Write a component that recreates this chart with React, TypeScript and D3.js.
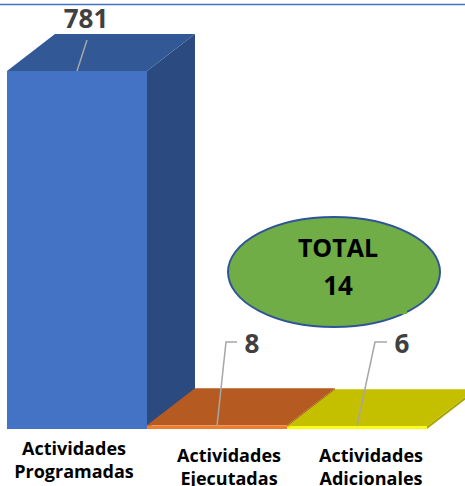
import React from "react";
import * as d3 from "d3";

const categories = ["Actividades Programadas", "Actividades Ejecutadas", "Actividades Adicionales"];
const values = [781, 8, 6];
const totalLabel = "TOTAL";
const totalValue = 14;

const W = 465;
const H = 486;
const DX = 48;
const DY = -37;

const faceColors = [
  { front: "#4472C4", top: "#335896", side: "#2B4A80" },
  { front: "#ED7D31", top: "#B55B22", side: "#A0501D" },
  { front: "#FFFF00", top: "#C4C000", side: "#A8A500" },
];

// label layout (offsets relative to bar front-left / top)
const labelLayout = [
  { tx: 86, ty: 28, leader: [[87, 40], [77, 71]] as [number, number][] },
  { tx: 252, ty: 353, leader: [[237, 342], [226, 342], [217, 426]] as [number, number][] },
  { tx: 402, ty: 353, leader: [[387, 342], [375, 342], [357, 426]] as [number, number][] },
];
const catLabelY = [455, 462, 462];

export default function App() {
  const x = d3.scaleBand<string>().domain(categories).range([7, 427]).paddingInner(0).paddingOuter(0);
  const y = d3.scaleLinear().domain([0, 781]).range([429, 71]);
  const bw = x.bandwidth();
  const line = d3.line();

  return (
    <svg width={W} height={H} style={{ position: "absolute", left: 0, top: 0 }} fontFamily="'Open Sans', sans-serif">
      <defs>
        <clipPath id="clip">
          <rect x={0} y={0} width={W} height={H} />
        </clipPath>
      </defs>
      <line x1={0} x2={W} y1={4.5} y2={4.5} stroke="#4472C4" strokeWidth={1.5} />
      <g clipPath="url(#clip)">
        {categories.map((c, i) => {
          const x0 = x(c)!;
          const x1 = x0 + bw;
          const yb = y(0);
          const yt = y(values[i]);
          const col = faceColors[i];
          const top = [[x0, yt], [x0 + DX, yt + DY], [x1 + DX, yt + DY], [x1, yt]];
          const side = [[x1, yt], [x1 + DX, yt + DY], [x1 + DX, yb + DY], [x1, yb]];
          return (
            <g key={c}>
              <polygon points={side.map((p) => p.join(",")).join(" ")} fill={col.side} />
              <polygon points={top.map((p) => p.join(",")).join(" ")} fill={col.top} />
              <rect x={x0} y={yt} width={bw} height={yb - yt} fill={col.front} />
            </g>
          );
        })}
      </g>
      <ellipse cx={334} cy={272} rx={106} ry={55} fill="#70AD47" stroke="#2F5597" strokeWidth={2} />
      <rect x={270} y={240} width={137} height={74} fill="#70AD47" />
      <text x={338} y={257} textAnchor="middle" fontWeight="bold" fontSize={25} fill="#000">{totalLabel}</text>
      <text x={338} y={295} textAnchor="middle" fontWeight="bold" fontSize={26} fill="#000">{totalValue}</text>
      {values.map((v, i) => (
        <g key={i}>
          <path d={line(labelLayout[i].leader) || ""} fill="none" stroke="#A6A6A6" strokeWidth={1.5} />
          <text x={labelLayout[i].tx} y={labelLayout[i].ty} textAnchor="middle" fontWeight="bold" fontSize={26} fill="#404040">{v}</text>
        </g>
      ))}
      {categories.map((c, i) => {
        const words = c.split(" ");
        const cx = x(c)! + bw / 2 + (i === 0 ? -3 : i === 1 ? 12 : 14);
        return (
          <text key={c} x={cx} y={catLabelY[i]} textAnchor="middle" fontWeight="bold" fontSize={18} fill="#000">
            <tspan x={cx} dy={0}>{words[0]}</tspan>
            <tspan x={cx} dy={22.5}>{words[1]}</tspan>
          </text>
        );
      })}
    </svg>
  );
}
